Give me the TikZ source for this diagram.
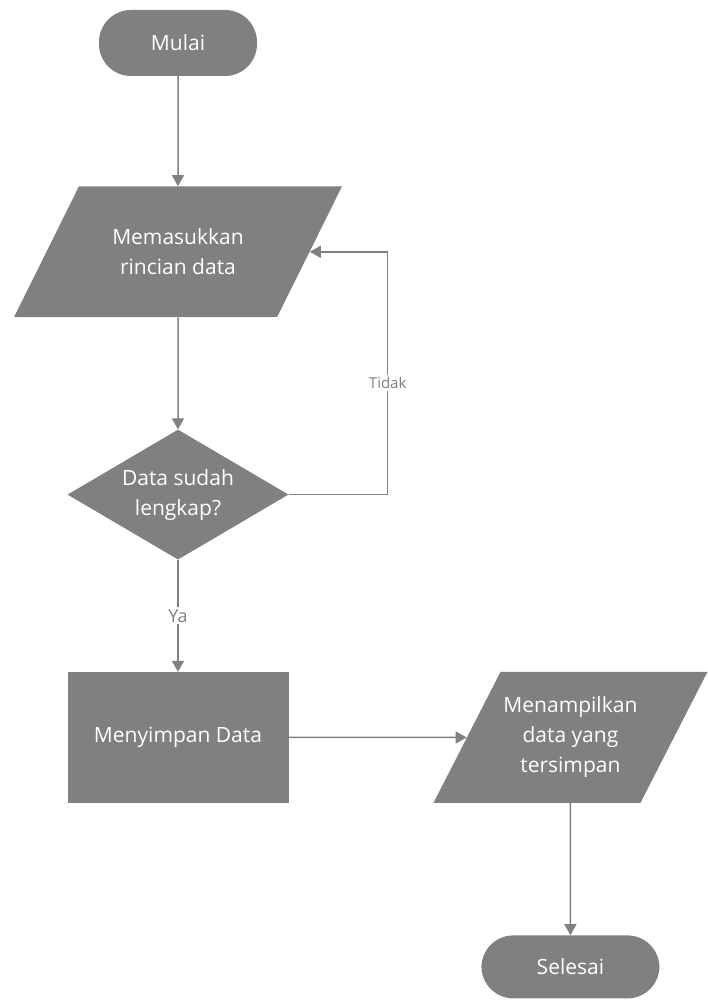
\documentclass[tikz,border=0pt]{standalone}
\usepackage{fontspec}
\setmainfont{Open Sans}
\usetikzlibrary{positioning, arrows.meta, shapes.geometric, calc}
\definecolor{flowgray}{RGB}{128,128,128}

\begin{document}
\begin{tikzpicture}[
    font=\fontsize{21}{30}\selectfont,
    terminal/.style={rectangle, fill=flowgray, rounded corners=32pt, text=white, minimum height=66pt, align=center},
    io/.style={trapezium, trapezium stretches body, fill=flowgray, text=white, inner xsep=2pt, align=center},
    process/.style={rectangle, fill=flowgray, text=white, minimum width=221pt, minimum height=131pt, align=center},
    decision/.style={diamond, aspect=1.7, fill=flowgray, text=white, minimum width=221pt, minimum height=130pt, inner sep=0pt, align=center},
    arr/.style={-{Triangle[length=11pt, width=12pt]}, line width=1.5pt, draw=flowgray},
    lbl/.style={fill=white, text=flowgray, inner sep=2pt}
]
    \useasboundingbox (0pt,0pt) rectangle (707pt,-1000pt);

    \node[terminal, minimum width=158pt] (mulai) at (178pt,-43pt) {Mulai};

    \node[io, trapezium left angle=63.6, trapezium right angle=116.4, inner ysep=42.3pt, minimum width=328pt] (input) [below=110pt of mulai] {Memasukkan\\rincian data};
    \node[decision] (check) [below=112pt of input] {Data sudah\\lengkap?};
    \node[process] (save) [below=112pt of check] {Menyimpan Data};

    \node[io, trapezium left angle=62.9, trapezium right angle=117.1, inner ysep=25pt, minimum width=274pt] (output) [right=178pt of save] {Menampilkan\\data yang\\tersimpan};
    \node[terminal, minimum width=178pt, minimum height=63pt] (selesai) [below=132pt of output] {Selesai};

    % mid points of the slanted sides
    \coordinate (inputside) at ($(input.top right corner)!0.5!(input.bottom right corner)$);
    \coordinate (outputside) at ($(output.top left corner)!0.5!(output.bottom left corner)$);

    \draw[arr] (mulai) -- (input);
    \draw[arr] (input) -- (check);
    \draw[arr] (check) -- node[lbl, font=\fontsize{18}{20}\selectfont] {Ya} (save);
    \draw[arr] (save) -- (outputside);
    \draw[arr] (output) -- (selesai);

    \draw[arr] (check.east) -- ++(99pt,0) |- node[lbl, pos=0.23, font=\fontsize{15}{16}\selectfont] {Tidak} (inputside);

\end{tikzpicture}
\end{document}
